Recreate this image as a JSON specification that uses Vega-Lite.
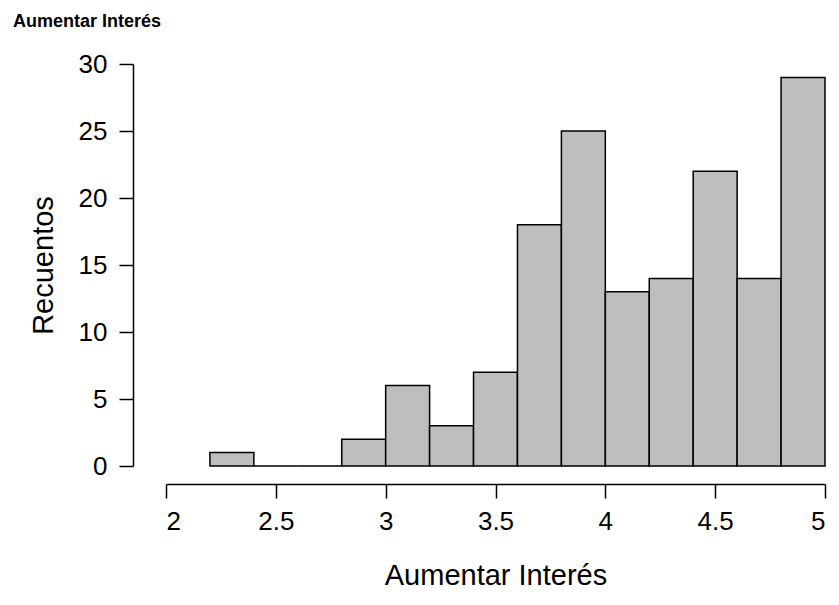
{
  "$schema": "https://vega.github.io/schema/vega-lite/v6.json",
  "autosize": "none",
  "width": 659,
  "height": 402,
  "padding": {"left": 166, "top": 64, "right": 14, "bottom": 139},
  "background": "white",
  "title": {"text": "Aumentar Interés", "anchor": "start", "frame": "group", "dx": -153, "offset": 20, "fontSize": 18, "font": "Liberation Sans", "fontWeight": "bold", "color": "black"},
  "data": {"values": [
    {"start": 2.2, "end": 2.4, "count": 1},
    {"start": 2.4, "end": 2.6, "count": 0},
    {"start": 2.6, "end": 2.8, "count": 0},
    {"start": 2.8, "end": 3.0, "count": 2},
    {"start": 3.0, "end": 3.2, "count": 6},
    {"start": 3.2, "end": 3.4, "count": 3},
    {"start": 3.4, "end": 3.6, "count": 7},
    {"start": 3.6, "end": 3.8, "count": 18},
    {"start": 3.8, "end": 4.0, "count": 25},
    {"start": 4.0, "end": 4.2, "count": 13},
    {"start": 4.2, "end": 4.4, "count": 14},
    {"start": 4.4, "end": 4.6, "count": 22},
    {"start": 4.6, "end": 4.8, "count": 14},
    {"start": 4.8, "end": 5.0, "count": 29}
  ]},
  "mark": {"type": "rect", "fill": "#bebebe", "stroke": "black", "strokeWidth": 1.5},
  "encoding": {
    "x": {"field": "start", "type": "quantitative", "scale": {"domain": [2, 5], "nice": false, "zero": false},
      "axis": {"title": "Aumentar Interés", "values": [2, 2.5, 3, 3.5, 4, 4.5, 5], "format": "~g", "grid": false, "offset": 18, "titlePadding": 27, "labelPadding": 10}},
    "x2": {"field": "end"},
    "y": {"field": "count", "type": "quantitative", "scale": {"domain": [0, 30], "nice": false},
      "axis": {"title": "Recuentos", "values": [0, 5, 10, 15, 20, 25, 30], "grid": false, "offset": 33, "titlePadding": 20, "labelPadding": 12}},
    "y2": {"datum": 0}
  },
  "config": {
    "view": {"stroke": null},
    "axis": {"domainColor": "black", "domainWidth": 1.5, "tickColor": "black", "tickWidth": 1.5, "tickSize": 14,
      "labelFont": "Liberation Sans", "labelFontSize": 26, "labelColor": "black",
      "titleFont": "Liberation Sans", "titleFontSize": 29, "titleFontWeight": "normal", "titleColor": "black"}
  }
}
